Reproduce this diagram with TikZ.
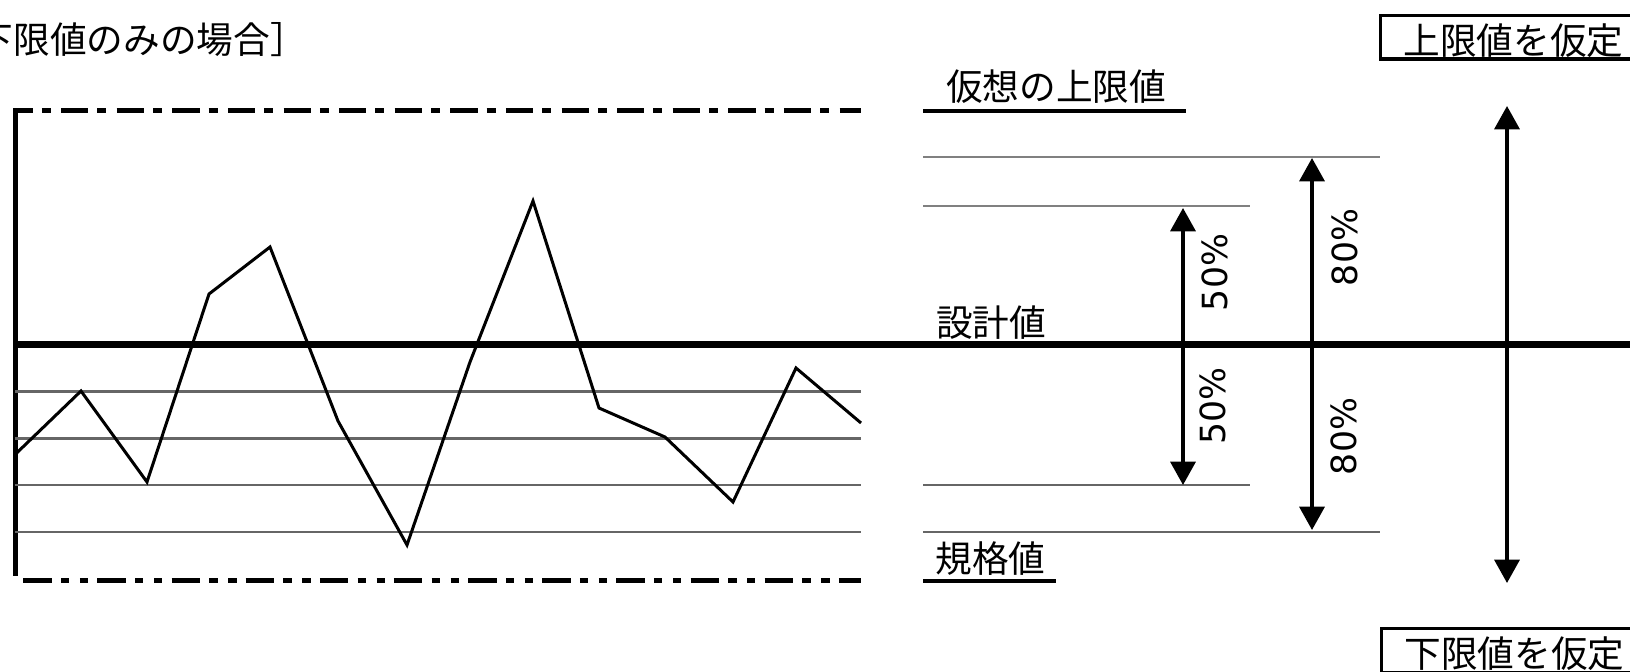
\documentclass[tikz,border=0pt]{standalone}
\usepackage{fontspec}
\setmainfont{Noto Sans CJK JP}
\newfontfamily\pctfont{DejaVu Sans}
\usetikzlibrary{arrows.meta}
\begin{document}
\begin{tikzpicture}[x=0.75pt,y=-0.75pt,
    jp/.style={inner sep=0pt,font=\fontsize{27.5}{33}\selectfont},
    pct/.style={inner sep=0pt,rotate=90,font=\pctfont\fontsize{26}{31}\selectfont},
    tag/.style={jp,draw,line width=2.6pt,anchor=west,inner xsep=17pt,
      minimum height=32.8pt,text height=26pt,text depth=0.8pt},
    dimarrow/.style={line width=2.6pt,
      {Triangle[width=18.75pt,length=17.5pt]}-{Triangle[width=18.75pt,length=17.5pt]}},
    levelline/.style={line width=2pt,black!60},
    guideline/.style={line width=1.9pt,gray}]
  \useasboundingbox (0,0) rectangle (1630,671);
  % frame of the chart
  \draw[line width=3.75pt] (15,108) -- (15,576);
  \draw[line width=3.4pt,dash pattern=on 20.5pt off 6.75pt on 6.75pt off 7.7pt,
    dash phase=5.6pt] (13,110.5) -- (861,110.5);
  \draw[line width=3.75pt,
    dash pattern=on 21.3pt off 7pt on 6.2pt off 8pt on 6.2pt off 6.9pt]
    (23.3,580) -- (861,580);
  % levels
  \foreach \y in {391.5,438.5,485,532}
    \draw[levelline] (15,\y) -- (861,\y);
  \draw[guideline] (923,157) -- (1380,157);
  \draw[guideline] (923,206) -- (1250,206);
  \draw[levelline] (923,485) -- (1250,485);
  \draw[levelline] (923,532) -- (1380,532);
  \draw[line width=5pt] (13,344.3) -- (1640,344.3);
  % measured values
  \draw[line width=2.25pt] (15.6,454) -- (81,391) -- (147,482) -- (209,294)
    -- (270,247) -- (338,421) -- (407,545) -- (470,362) -- (533,201)
    -- (599,408) -- (665,437) -- (733,502) -- (796,368) -- (861,423);
  % labels
  \node[jp,anchor=west] (title) at (-60,40) {［下限値のみの場合］};
  \node[jp] (virt) at (1056,87) {仮想の上限値};
  \node[jp] (design) at (991,322.5) {設計値};
  \node[jp] (spec) at (990.5,559) {規格値};
  \draw[line width=3pt] (923,110.5) -- (1186,110.5);
  \draw[line width=3pt] (923,581) -- (1056,581);
  \node[tag] (upper) at (1379,37.2) {上限値を仮定};
  \node[tag] (lower) at (1380,650.5) {下限値を仮定};
  % ranges
  \coordinate (a50t) at (1183,208);
  \coordinate (a50b) at (1183,485);
  \coordinate (a80t) at (1312,158);
  \coordinate (a80b) at (1312,530);
  \coordinate (bigt) at (1507,106);
  \coordinate (bigb) at (1507,583);
  \draw[dimarrow] (a50t) -- (a50b);
  \draw[dimarrow] (a80t) -- (a80b);
  \draw[dimarrow] (bigt) -- (bigb);
  \node[pct] (p50a) at (1215,272.5) {50\%};
  \node[pct] (p50b) at (1212.5,406) {50\%};
  \node[pct] (p80a) at (1344.5,247.5) {80\%};
  \node[pct] (p80b) at (1344,436.5) {80\%};
\end{tikzpicture}
\end{document}
